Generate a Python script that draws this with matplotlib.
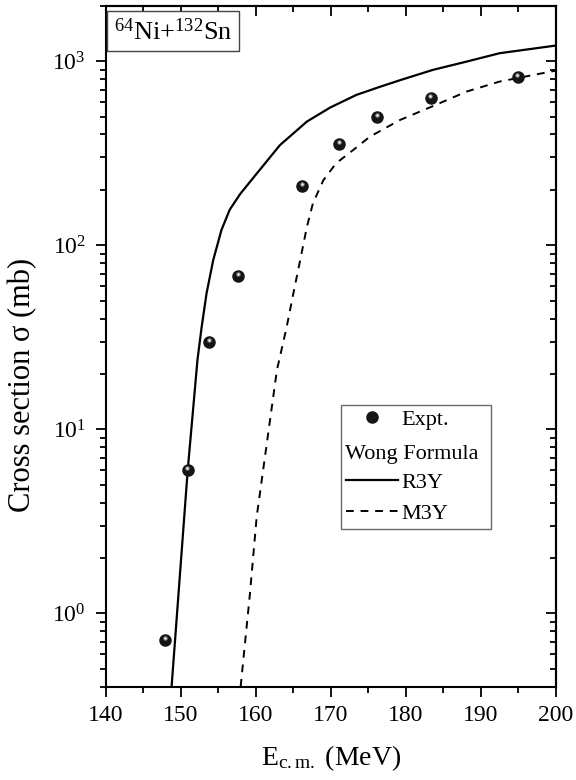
import numpy as np
import matplotlib
matplotlib.use("Agg")
import matplotlib.pyplot as plt
import matplotlib.ticker as mticker
from matplotlib.lines import Line2D
import matplotlib.transforms as mtransforms

plt.rcParams["font.family"] = ["Liberation Serif", "DejaVu Serif"]
plt.rcParams["mathtext.fontset"] = "custom"
plt.rcParams["mathtext.rm"] = "Liberation Serif"
plt.rcParams["mathtext.it"] = "Liberation Serif:italic"

# experimental points
e_expt = [147.9, 150.9, 153.8, 157.6, 166.2, 171.1, 176.2, 183.3, 194.9]
s_expt = [0.72, 6.0, 30.0, 68.0, 210.0, 356.0, 500.0, 630.0, 825.0]

# Wong formula, R3Y
e_r3y = [148.75, 150.9, 152.2, 152.76, 153.42, 154.3, 155.4, 156.5, 157.9, 160.1,
         163.2, 166.8, 169.9, 173.4, 176.5, 179.2, 183.6, 188.1, 192.5, 200.0]
s_r3y = [0.4, 6.0, 23.8, 36.0, 55.0, 83.0, 121.0, 156.0, 190.0, 245.0,
         350.0, 470.0, 560.0, 656.0, 725.0, 788.0, 897.0, 995.0, 1105.0, 1216.0]

# Wong formula, M3Y
e_m3y = [157.96, 159.2, 160.1, 162.8, 164.1, 165.0, 165.9, 166.8, 167.6, 169.0,
         170.7, 173.0, 175.2, 179.2, 183.6, 188.1, 192.5, 200.0]
s_m3y = [0.4, 1.28, 3.35, 21.0, 36.0, 55.0, 83.0, 126.0, 169.0, 226.0,
         279.0, 330.0, 389.0, 479.0, 570.0, 684.0, 775.0, 889.0]

fig = plt.figure(figsize=(5.76, 7.8), dpi=100)
ax = fig.add_axes([0.184, 0.1196, 0.781, 0.873])

dash = (0, (4, 3.5))
ax.plot(e_r3y, s_r3y, color="black", lw=1.6)
ax.plot(e_m3y, s_m3y, color="black", lw=1.4, linestyle=dash)

# shiny balls
ax.plot(e_expt, s_expt, "o", ms=8, color="#151515", mec="#151515", zorder=5)
hl = mtransforms.offset_copy(ax.transData, fig=fig, x=-0.3, y=1.3, units="points")
ax.plot(e_expt, s_expt, "o", ms=3.2, color="#8c8c8c", mec="none", transform=hl, zorder=6)
ax.plot(e_expt, s_expt, "o", ms=1.5, color="white", mec="none", transform=hl, zorder=7)

ax.set_yscale("log")
ax.set_xlim(140, 200)
ax.set_ylim(0.4, 2000)

ax.xaxis.set_major_locator(mticker.MultipleLocator(10))
ax.xaxis.set_minor_locator(mticker.MultipleLocator(5))
ax.yaxis.set_major_locator(mticker.LogLocator(base=10, numticks=10))
ax.yaxis.set_minor_locator(mticker.LogLocator(base=10, subs=np.arange(2, 10), numticks=10))
ax.yaxis.set_minor_formatter(mticker.NullFormatter())

ax.tick_params(which="both", direction="out", width=1.3, labelsize=17)
ax.tick_params(axis="x", pad=6)
ax.tick_params(axis="y", pad=7)
ax.tick_params(which="major", length=7.5)
ax.tick_params(which="minor", length=4.5)
for sp in ax.spines.values():
    sp.set_linewidth(1.5)

top = ax.secondary_xaxis("top")
top.xaxis.set_major_locator(mticker.MultipleLocator(10))
top.xaxis.set_minor_locator(mticker.MultipleLocator(5))
top.tick_params(which="both", direction="in", width=1.3, labeltop=False)
top.tick_params(which="major", length=7)
top.tick_params(which="minor", length=4)
top.spines["top"].set_linewidth(1.5)

right = ax.secondary_yaxis("right")
right.yaxis.set_major_locator(mticker.LogLocator(base=10, numticks=10))
right.yaxis.set_minor_locator(mticker.LogLocator(base=10, subs=np.arange(2, 10), numticks=10))
right.tick_params(which="both", direction="in", width=1.3, labelright=False)
right.tick_params(which="major", length=7)
right.tick_params(which="minor", length=4)
right.spines["right"].set_linewidth(1.5)

ax.set_xlabel(r"E$_{\rm c.m.}$ (MeV)", fontsize=20, labelpad=12)
ax.set_ylabel("Cross section σ (mb)", fontsize=22)
ax.yaxis.set_label_coords(-0.152, 0.443)

ax.text(0.018, 0.982, r"$^{64}$Ni+$^{132}$Sn", transform=ax.transAxes, fontsize=19,
        ha="left", va="top",
        bbox=dict(boxstyle="square,pad=0.25", fc="white", ec="#444444", lw=1))

handles = [
    Line2D([], [], marker="o", ls="none", ms=8, color="#151515"),
    Line2D([], [], ls="none"),
    Line2D([], [], color="black", lw=1.6),
    Line2D([], [], color="black", lw=1.4, linestyle=dash),
]
labels = ["Expt.", "               ", "R3Y", "M3Y"]
leg = ax.legend(handles, labels, loc="upper left", bbox_to_anchor=(0.523, 0.414),
                fontsize=16, frameon=True, fancybox=False, edgecolor="#444444",
                borderpad=0.22, handlelength=2.35, handletextpad=0.15,
                labelspacing=0.48, borderaxespad=0)
leg.get_frame().set_linewidth(1.0)

fig.canvas.draw()
fb = leg.get_frame().get_window_extent()
tb = leg.get_texts()[1].get_window_extent()
inv = fig.transFigure.inverted()
x0, _ = inv.transform((fb.x0 + 4, 0))
_, y0 = inv.transform((0, (tb.y0 + tb.y1) / 2))
fig.text(x0, y0, "Wong Formula", fontsize=16, ha="left", va="center_baseline")

fig.savefig("out.png", dpi=100)
